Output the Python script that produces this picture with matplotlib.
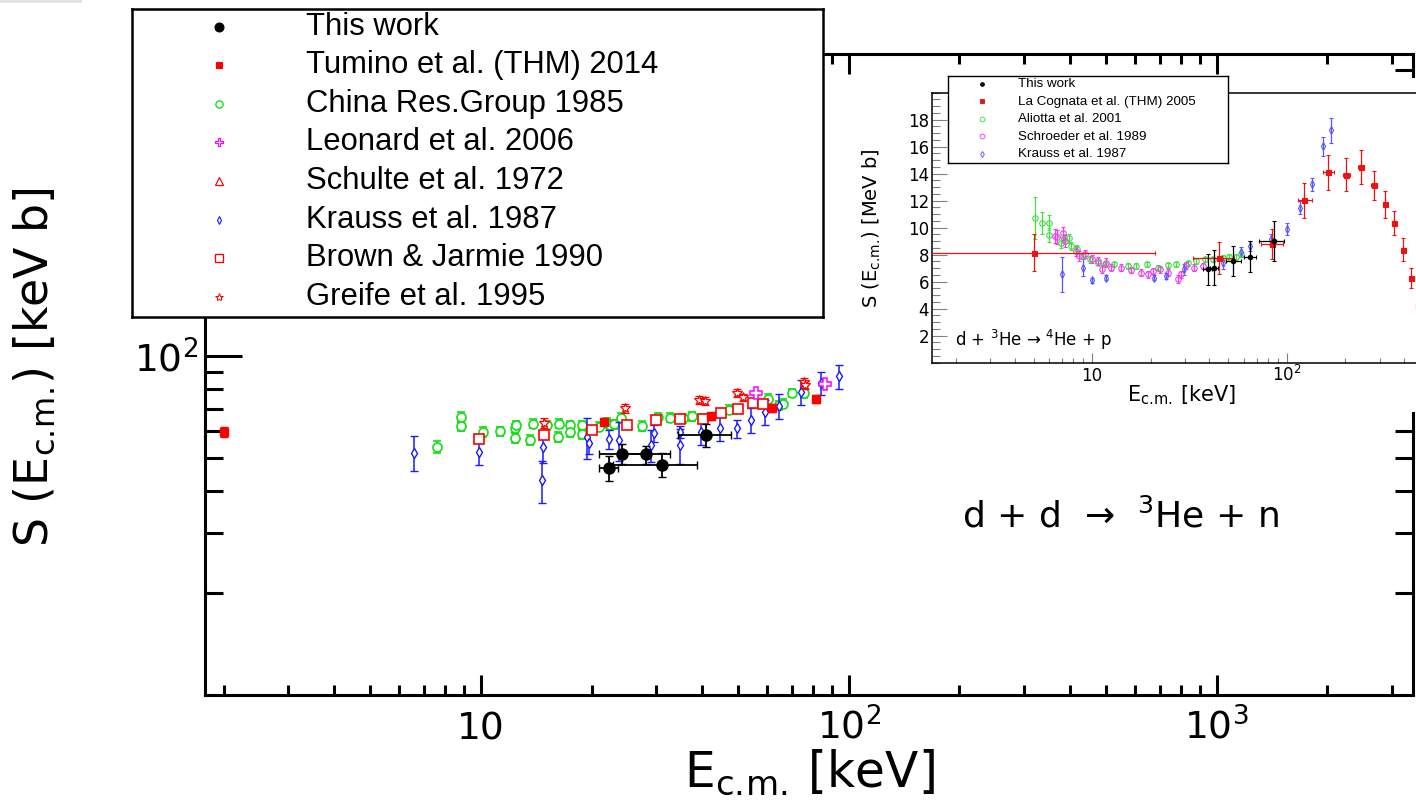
import matplotlib

matplotlib.use("Agg")
import matplotlib.pyplot as plt
import numpy as np
from matplotlib.patches import Rectangle
from matplotlib.ticker import FixedLocator, LogLocator, MultipleLocator, NullFormatter

plt.rcParams.update({
    "font.family": ["DejaVu Sans"],
    "mathtext.fontset": "dejavusans",
    "mathtext.default": "regular",
})
LEGEND_FONT = ["Liberation Sans", "DejaVu Sans"]

# ---- main panel: d + d -> 3He + n  (E in keV, S in keV b) ----
this_work_E = [22.3, 24.2, 28.2, 31.1, 41.0]
this_work_E_min = [20.9, 20.9, 24.2, 22.9, 34.3]
this_work_E_max = [23.6, 28.9, 32.6, 38.7, 47.9]
this_work_S = [46.8, 51.6, 51.3, 47.9, 58.5]
this_work_S_err = [4.0, 3.6, 3.2, 3.8, 4.6]

tumino_E = [2.0, 21.6, 42.3, 61.9, 81.4]
tumino_S = [59.8, 64.0, 66.5, 70.4, 74.7]
tumino_S_err = [2.2, 1.5, 1.5, 1.8, 2.0]

china_E = [7.61, 8.83, 8.83, 10.15, 11.3, 12.4, 12.4, 12.5, 13.6, 13.9, 15.1, 16.2,
           16.3, 17.5, 17.5, 18.8, 18.8, 21.0, 22.0, 22.5, 23.0, 24.1, 27.5, 30.3,
           32.6, 35.4, 37.5, 40.1, 47.4, 60.2, 64.8, 66.2, 70.1, 75.7]
china_S = [54.0, 66.2, 62.3, 59.8, 60.1, 61.2, 57.5, 62.6, 56.5, 63.3, 62.6, 57.8,
           63.3, 62.6, 59.8, 62.6, 58.9, 61.9, 63.6, 62.6, 63.0, 65.9, 62.3, 66.2,
           65.9, 65.5, 66.5, 65.5, 69.6, 75.0, 71.6, 72.4, 78.0, 77.7]
china_S_err = [2.2, 2.4, 2.2, 2.0, 1.9, 2.0, 1.9, 2.0, 1.9, 2.0, 1.9, 1.9,
               2.0, 1.9, 1.9, 1.9, 1.9, 1.9, 2.0, 1.9, 1.9, 2.0, 2.0, 2.0,
               2.0, 2.0, 2.0, 2.0, 2.1, 2.2, 2.2, 2.2, 2.3, 2.3]

leonard_E = [56.0, 86.3]
leonard_S = [78.0, 83.0]
leonard_S_err = [1.0, 1.0]

schulte_E = []
schulte_S = []
schulte_S_err = []

krauss_E = [6.58, 9.9, 14.76, 14.7, 19.5, 19.7, 22.3, 23.8, 29.1, 29.6, 34.8,
            34.8, 39.7, 44.7, 49.6, 54.2, 59.3, 64.5, 74.2, 84.1, 94.2]
krauss_S = [51.9, 52.0, 53.8, 43.1, 57.8, 55.3, 56.9, 56.5, 54.6, 59.2, 54.6,
            59.8, 59.8, 61.2, 61.2, 65.0, 68.5, 71.2, 78.5, 83.4, 87.3]
krauss_S_err = [6.2, 4.4, 5.4, 6.1, 8.0, 4.0, 3.7, 7.3, 5.8, 3.3, 6.4,
                2.6, 5.1, 5.1, 3.8, 5.5, 5.8, 5.9, 6.5, 6.7, 7.0]

brown_E = [9.9, 14.9, 20.0, 24.9, 29.9, 34.8, 40.1, 45.0, 49.9, 55.1, 58.4]
brown_S = [56.8, 58.5, 60.5, 62.6, 64.8, 65.1, 65.1, 68.2, 69.8, 72.8, 72.1]
brown_S_err = [1.5, 1.5, 1.5, 1.5, 1.5, 1.5, 1.5, 1.6, 1.6, 1.7, 1.7]

greife_E = [14.9, 24.6, 39.3, 40.7, 49.6, 51.5, 75.7, 76.0]
greife_S = [63.6, 70.1, 74.5, 74.0, 78.0, 75.6, 84.0, 82.1]
greife_S_err = [2.0, 2.2, 2.0, 2.0, 2.2, 2.0, 2.2, 2.2]

# ---- inset: d + 3He -> 4He + p  (E in keV, S in MeV b) ----
in_this_E = [39.3, 42.5, 53.2, 65.0, 85.7]
in_this_E_min = [37.3, 40.5, 48.8, 60.5, 72.3]
in_this_E_max = [41.3, 44.5, 58.2, 69.5, 97.2]
in_this_S = [6.92, 7.05, 7.54, 7.86, 9.02]
in_this_S_err = [1.15, 1.3, 1.1, 1.15, 1.5]

lacognata_E = [5.01, 44.7, 83.7, 123, 162, 202, 241, 280, 320, 357, 397, 435, 471]
lacognata_E_min = [1.0, 32.9, 73.8, 113.7, 153, 194, 233, 272, 312, 349, 389, 427, 463]
lacognata_E_max = [21.0, 53.8, 95.3, 134.4, 174, 210, 249, 288, 328, 365, 405, 443, 479]
lacognata_S = [8.15, 7.74, 8.77, 12.02, 14.11, 13.94, 14.5, 13.13, 11.75, 10.37, 8.35, 6.26, 4.2]
lacognata_S_err = [1.35, 1.2, 1.1, 1.3, 1.3, 1.2, 1.25, 1.1, 1.0, 0.9, 0.85, 0.72, 0.7]

aliotta_E = [5.06, 5.51, 6.04, 6.04, 6.93, 7.2, 7.59, 7.8, 8.4, 8.96, 9.7, 10.7, 11.6, 13.0,
             15.2, 16.8, 19.2, 21.7, 24.5, 27.0, 31.0, 34.2, 37.8, 41.7, 46.9, 50.7, 54.9, 58.2]
aliotta_S = [10.74, 10.37, 10.37, 9.46, 8.89, 9.19, 9.21, 8.65, 8.4, 7.91, 7.66, 7.42, 7.29, 7.29,
             7.17, 7.17, 7.29, 7.05, 7.22, 7.29, 7.37, 7.54, 7.66, 7.66, 7.78, 7.86, 7.86, 8.03]
aliotta_S_err = [1.55, 0.8, 0.55, 0.5, 0.4, 0.35, 0.35, 0.3, 0.3, 0.25, 0.25, 0.2, 0.2, 0.2,
                 0.2, 0.2, 0.2, 0.2, 0.2, 0.2, 0.2, 0.2, 0.2, 0.2, 0.2, 0.2, 0.2, 0.2]

schroeder_E = [6.41, 6.6, 7.06, 7.27, 8.28, 8.52, 9.2, 9.96, 10.7, 11.3, 11.8, 12.5,
               14.1, 15.85, 17.9, 19.3, 20.5, 22.2, 24.5, 27.5, 28.6, 30.4, 33.3, 37.0]
schroeder_S = [9.38, 9.3, 9.58, 9.02, 8.28, 7.91, 8.03, 7.66, 7.54, 6.92, 7.42, 7.05,
               7.05, 6.87, 6.68, 6.55, 6.8, 6.92, 6.68, 6.23, 6.55, 7.22, 7.05, 7.17]
schroeder_S_err = [0.5, 0.5, 0.5, 0.45, 0.4, 0.35, 0.3, 0.3, 0.3, 0.3, 0.3, 0.25,
                   0.25, 0.25, 0.25, 0.25, 0.25, 0.25, 0.25, 0.3, 0.25, 0.25, 0.25, 0.25]

in_krauss_E = [7.02, 8.96, 10.0, 11.8, 20.9, 24.0, 29.6, 46.9, 58.2, 65.0, 83.0, 100,
               117.5, 134, 153, 169]
in_krauss_S = [6.55, 7.05, 6.11, 6.31, 6.3, 6.43, 6.92, 7.37, 8.2, 8.65, 9.14, 9.93,
               11.48, 13.2, 16.03, 17.21]
in_krauss_S_err = [1.3, 0.6, 0.2, 0.2, 0.2, 0.2, 0.4, 0.4, 0.35, 0.4, 0.4, 0.45,
                   0.5, 0.5, 0.7, 0.9]

W, H = 1416, 805

RED = "#ff0000"
GREEN = "#10e010"
BLUE = "#1a1aff"
MAGENTA = "#ff00ff"

CM = r"$_{c.\!m.\!}$"


def fig_rect(x0, y0, x1, y1):
    # pixel box measured from the top-left corner -> figure fraction
    return [x0 / W, 1 - y1 / H, (x1 - x0) / W, (y1 - y0) / H]


def x_err(e, e_min, e_max):
    e = np.asarray(e)
    return [e - np.asarray(e_min), np.asarray(e_max) - e]


def plot_series(axis, e, s, s_err, style, e_err=None, bar_lw=1.1, cap=3.0):
    if len(e) == 0:
        return
    axis.errorbar(
        e, s, yerr=s_err, xerr=e_err,
        fmt=style["marker"], ms=style["ms"], color=style["color"],
        mec=style["color"], mfc=style["mfc"], mew=style["mew"],
        ecolor=style["color"], elinewidth=bar_lw, capsize=cap, capthick=bar_lw,
        zorder=style.get("z", 2),
    )


def draw_legend(rect, entries, marker_x, text_x, row0, row_step, fontsize, lw, scale):
    x0, y0, x1, y1 = rect
    lax = fig.add_axes(fig_rect(x0, y0, x1, y1))
    lax.set_xlim(0, x1 - x0)
    lax.set_ylim(y1 - y0, 0)
    lax.set_xticks([])
    lax.set_yticks([])
    for sp in lax.spines.values():
        sp.set_linewidth(lw)
    for i, (label, st) in enumerate(entries):
        y = row0 + row_step * i
        lax.plot([marker_x], [y], st["marker"], ms=st["ms"] * scale, color=st["color"],
                 mec=st["color"], mfc=st["mfc"], mew=st["mew"] * 0.8)
        lax.text(text_x, y, label, va="center", ha="left", fontsize=fontsize,
                 family=LEGEND_FONT)
    return lax


fig = plt.figure(figsize=(W / 100, H / 100), dpi=100)
fig.add_artist(Rectangle((0, 1 - 3 / H), 82 / W, 3 / H, transform=fig.transFigure,
                         color="#e3e3e3", lw=0))

# ---------------- main axes ----------------
ax = fig.add_axes(fig_rect(205, 54, 1413, 695))
ax.set_xscale("log")
ax.set_yscale("log")
ax.set_xlim(1.78, 3420)
ax.set_ylim(10, 780)

ax.set_xticks([10, 100, 1000], labels=["10", "$10^{2}$", "$10^{3}$"])
ax.xaxis.set_minor_locator(LogLocator(base=10, subs=np.arange(2, 10), numticks=30))
ax.xaxis.set_minor_formatter(NullFormatter())
ax.set_yticks([100], labels=["$10^{2}$"])
ax.yaxis.set_minor_locator(LogLocator(base=10, subs=np.arange(2, 10), numticks=30))
ax.yaxis.set_minor_formatter(NullFormatter())

ax.tick_params(axis="both", which="both", direction="in", top=True, right=True,
               width=2.2, labelsize=27)
ax.tick_params(axis="x", which="major", length=14.5, pad=32)
ax.tick_params(axis="x", which="minor", length=7)
ax.tick_params(axis="y", which="major", length=26.5, pad=5)
ax.tick_params(axis="y", which="minor", length=13)
for lab in ax.get_xticklabels():
    lab.set_verticalalignment("baseline")
for sp in ax.spines.values():
    sp.set_linewidth(2.2)

main_styles = {
    "this": dict(marker="o", ms=8.0, color="black", mfc="black", mew=1.0, z=6),
    "tumino": dict(marker="s", ms=5.5, color=RED, mfc=RED, mew=1.0, z=5),
    "china": dict(marker="o", ms=6.5, color=GREEN, mfc="white", mew=1.2, z=2),
    "leonard": dict(marker="P", ms=8.0, color=MAGENTA, mfc="white", mew=1.1, z=4),
    "schulte": dict(marker="^", ms=6.5, color=RED, mfc="white", mew=1.1, z=3),
    "krauss": dict(marker="d", ms=5.0, color=BLUE, mfc="white", mew=1.0, z=3),
    "brown": dict(marker="s", ms=6.5, color=RED, mfc="white", mew=1.2, z=3),
    "greife": dict(marker="*", ms=7.5, color=RED, mfc="white", mew=0.9, z=4),
}

plot_series(ax, china_E, china_S, china_S_err, main_styles["china"])
plot_series(ax, krauss_E, krauss_S, krauss_S_err, main_styles["krauss"])
plot_series(ax, brown_E, brown_S, brown_S_err, main_styles["brown"])
plot_series(ax, schulte_E, schulte_S, schulte_S_err, main_styles["schulte"])
plot_series(ax, greife_E, greife_S, greife_S_err, main_styles["greife"])
plot_series(ax, leonard_E, leonard_S, leonard_S_err, main_styles["leonard"])
plot_series(ax, tumino_E, tumino_S, tumino_S_err, main_styles["tumino"])
plot_series(ax, this_work_E, this_work_S, this_work_S_err, main_styles["this"],
            e_err=x_err(this_work_E, this_work_E_min, this_work_E_max), bar_lw=1.3)

fig.text(35 / W, 1 - 367 / H, "S (E" + CM + ") [keV b]", rotation=90,
         ha="center", va="center", fontsize=33)
fig.text(809 / W, 1 - 787 / H, "E" + CM + " [keV]", ha="center", va="baseline", fontsize=35)
fig.text(962 / W, 1 - 527 / H, "d + d  \u2192  $^{3}$He + n", ha="left", va="baseline",
         fontsize=26)

draw_legend(
    (132, 9, 823, 317),
    [("This work", main_styles["this"]),
     ("Tumino et al. (THM) 2014", main_styles["tumino"]),
     ("China Res.Group 1985", main_styles["china"]),
     ("Leonard et al. 2006", main_styles["leonard"]),
     ("Schulte et al. 1972", main_styles["schulte"]),
     ("Krauss et al. 1987", main_styles["krauss"]),
     ("Brown & Jarmie 1990", main_styles["brown"]),
     ("Greife et al. 1995", main_styles["greife"])],
    marker_x=86.5, text_x=174, row0=17.7, row_step=38.6, fontsize=22.3, lw=1.8, scale=0.8,
).set_zorder(4)

# ---------------- inset ----------------
pad = fig.add_axes(fig_rect(862, 78, 1430, 412))
pad.set_xticks([])
pad.set_yticks([])
for sp in pad.spines.values():
    sp.set_visible(False)
pad.set_zorder(1)

ins = fig.add_axes(fig_rect(931.7, 92.7, 1481.5, 362.7))
ins.set_zorder(2)
ins.set_xscale("log")
ins.set_xlim(1.5, 1000)
ins.set_ylim(0, 20)
ins.set_xticks([10, 100, 1000], labels=["10", "$10^{2}$", ""])
ins.xaxis.set_minor_locator(LogLocator(base=10, subs=np.arange(2, 10), numticks=30))
ins.xaxis.set_minor_formatter(NullFormatter())
ins.yaxis.set_major_locator(FixedLocator(np.arange(2, 19, 2)))
ins.yaxis.set_minor_locator(MultipleLocator(0.5))
ins.tick_params(axis="both", which="both", direction="in", color="#808080", width=0.8,
                labelsize=12)
ins.tick_params(axis="x", which="major", length=7, pad=13.5)
ins.tick_params(axis="x", which="minor", length=3.6)
ins.tick_params(axis="y", which="major", length=11, pad=2)
ins.tick_params(axis="y", which="minor", length=5.5)
for lab in ins.get_xticklabels():
    lab.set_verticalalignment("baseline")
for sp in ins.spines.values():
    sp.set_linewidth(1.1)

inset_styles = {
    "this": dict(marker="o", ms=3.2, color="black", mfc="black", mew=0.8, z=6),
    "lacognata": dict(marker="s", ms=3.6, color="#f01010", mfc="#f01010", mew=0.8, z=5),
    "aliotta": dict(marker="o", ms=4.0, color="#40e040", mfc="none", mew=0.8, z=3),
    "schroeder": dict(marker="o", ms=4.0, color="#f040f0", mfc="none", mew=0.8, z=3),
    "krauss": dict(marker="d", ms=3.6, color="#5858ff", mfc="none", mew=0.8, z=3),
}

plot_series(ins, aliotta_E, aliotta_S, aliotta_S_err, inset_styles["aliotta"], bar_lw=0.9, cap=1.2)
plot_series(ins, schroeder_E, schroeder_S, schroeder_S_err, inset_styles["schroeder"],
            bar_lw=0.9, cap=1.2)
plot_series(ins, in_krauss_E, in_krauss_S, in_krauss_S_err, inset_styles["krauss"],
            bar_lw=0.9, cap=1.2)
plot_series(ins, lacognata_E, lacognata_S, lacognata_S_err, inset_styles["lacognata"],
            e_err=x_err(lacognata_E, lacognata_E_min, lacognata_E_max), bar_lw=0.9, cap=1.2)
plot_series(ins, in_this_E, in_this_S, in_this_S_err, inset_styles["this"],
            e_err=x_err(in_this_E, in_this_E_min, in_this_E_max), bar_lw=0.9, cap=1.2)

fig.text(872 / W, 1 - 228 / H, "S (E" + CM + ") [MeV b]", rotation=90, ha="center",
         va="center", fontsize=14, zorder=6)
fig.text(1236 / W, 1 - 401 / H, "E" + CM + " [keV]", ha="right", va="baseline",
         fontsize=15, zorder=6)
fig.text(955 / W, 1 - 346 / H, "d + $^{3}$He \u2192 $^{4}$He + p", ha="left",
         va="baseline", fontsize=12, zorder=6)

draw_legend(
    (947.7, 75.7, 1228.3, 163.3),
    [("This work", inset_styles["this"]),
     ("La Cognata et al. (THM) 2005", inset_styles["lacognata"]),
     ("Aliotta et al. 2001", inset_styles["aliotta"]),
     ("Schroeder et al. 1989", inset_styles["schroeder"]),
     ("Krauss et al. 1987", inset_styles["krauss"])],
    marker_x=34.3, text_x=70.3, row0=8.3, row_step=17.5, fontsize=9.6, lw=1.0, scale=0.85,
).set_zorder(3)

fig.savefig("out.png", dpi=100)
